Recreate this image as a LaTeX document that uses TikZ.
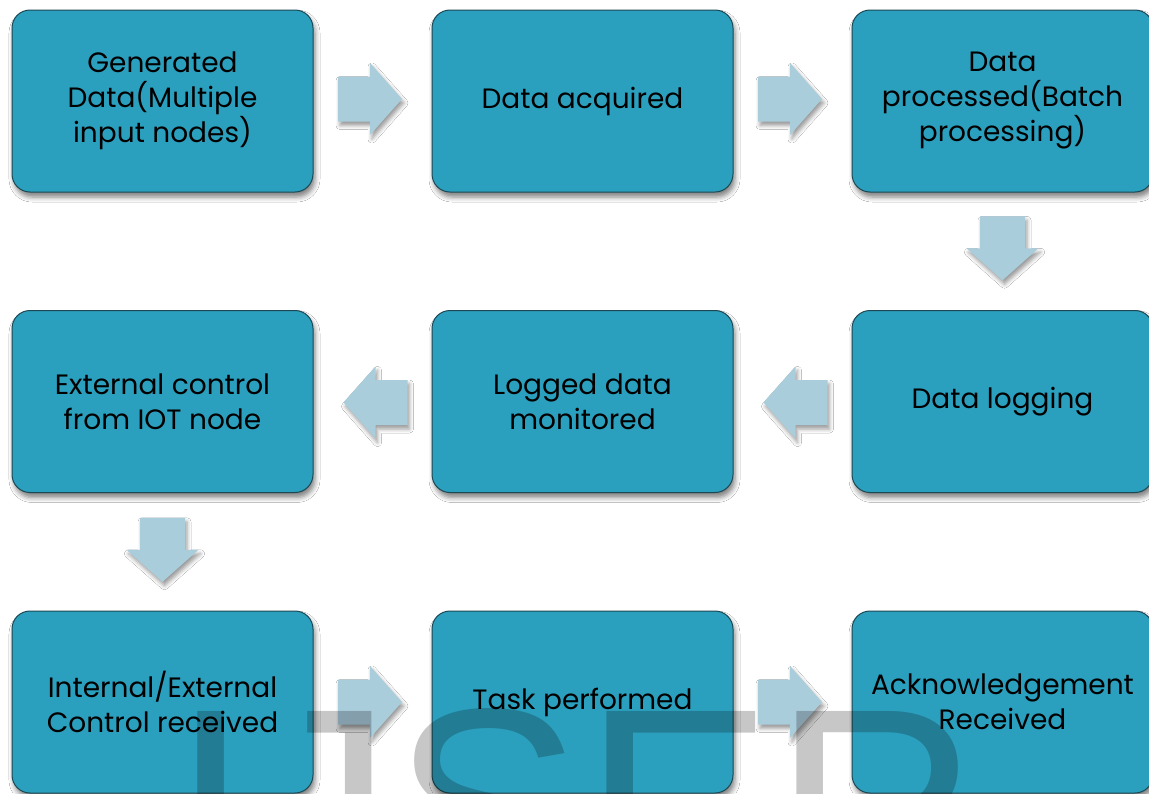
\documentclass[tikz,border=0pt]{standalone}
\usepackage{fontspec}
\setmainfont{Poppins}
\newfontfamily\wmfont{Liberation Sans}
\usetikzlibrary{calc,shadows.blur}
\definecolor{boxfill}{RGB}{43,160,190}
\definecolor{boxline}{RGB}{28,72,84}
\definecolor{arrowfill}{RGB}{170,205,220}
\tikzset{
  stepbox/.style={draw=boxline, line width=1pt, fill=boxfill, rounded corners=18pt,
    minimum width=301pt, minimum height=182pt, inner sep=0pt, align=center,
    font=\fontsize{28}{35}\selectfont, text=black,
    blur shadow={shadow xshift=2pt, shadow yshift=-5pt, shadow blur radius=5pt, shadow opacity=50}},
  blockarrow/.style={fill=arrowfill, draw=none,
    blur shadow={shadow xshift=2pt, shadow yshift=-4pt, shadow blur radius=4pt, shadow opacity=40}},
  barrow/.pic={
    \path[blockarrow] (-32,-22.5) -- (0,-22.5) -- (0,-36) -- (32,0) -- (0,36) -- (0,22.5) -- (-32,22.5) -- cycle;
  }
}
\begin{document}
\begin{tikzpicture}[x=1pt,y=-1pt]
\path[use as bounding box] (0,0) rectangle (1149,793);
\clip (0,0) rectangle (1149,793);
\fill[white] (0,0) rectangle (1149,793);
% row 1
\node[stepbox] (gen) at (162.5,101) {Generated\\Data(Multiple\\input nodes)};
\node[stepbox] (acq) at (582.5,101) {Data acquired};
\node[stepbox] (proc) at (1002.5,101) {Data\\processed(Batch\\processing)};
% row 2
\node[stepbox] (ext) at (162.5,401.5) {External control\\from IOT node};
\node[stepbox] (mon) at (582.5,401.5) {Logged data\\monitored};
\node[stepbox] (log) at (1002.5,401.5) {Data logging};
% row 3
\node[stepbox] (rec) at (162.5,702) {Internal/External\\Control received};
\node[stepbox] (task) at (582.5,702) {Task performed};
\node[stepbox] (ack) at (1002.5,702) {Acknowledgement\\Received};
% connectors
\coordinate (m1) at ($(gen.east)!0.5!(acq.west)$);
\coordinate (m2) at ($(acq.east)!0.5!(proc.west)$);
\coordinate (m3) at ($(proc.south)!0.5!(log.north)$);
\coordinate (m4) at ($(log.west)!0.5!(mon.east)$);
\coordinate (m5) at ($(mon.west)!0.5!(ext.east)$);
\coordinate (m6) at ($(ext.south)!0.5!(rec.north)$);
\coordinate (m7) at ($(rec.east)!0.5!(task.west)$);
\coordinate (m8) at ($(task.east)!0.5!(ack.west)$);
\pic at ([xshift=-2.5pt,yshift=2pt]m1) {barrow};
\pic at ([xshift=-2.5pt,yshift=2pt]m2) {barrow};
\pic[rotate=-90] at ([yshift=3pt]m3) {barrow};
\pic[rotate=180] at ([xshift=3pt,yshift=-1pt]m4) {barrow};
\pic[rotate=180] at ([xshift=3pt,yshift=-1pt]m5) {barrow};
\pic[rotate=-90] at ([yshift=2pt]m6) {barrow};
\pic at ([xshift=-2.5pt]m7) {barrow};
\pic at ([xshift=-2.5pt]m8) {barrow};
% watermark
\node[anchor=base west, inner sep=0pt, text=black, opacity=0.22,
  font=\wmfont\fontsize{285}{285}\selectfont] (wm) at (171,907) {IJSER};
\end{tikzpicture}
\end{document}
